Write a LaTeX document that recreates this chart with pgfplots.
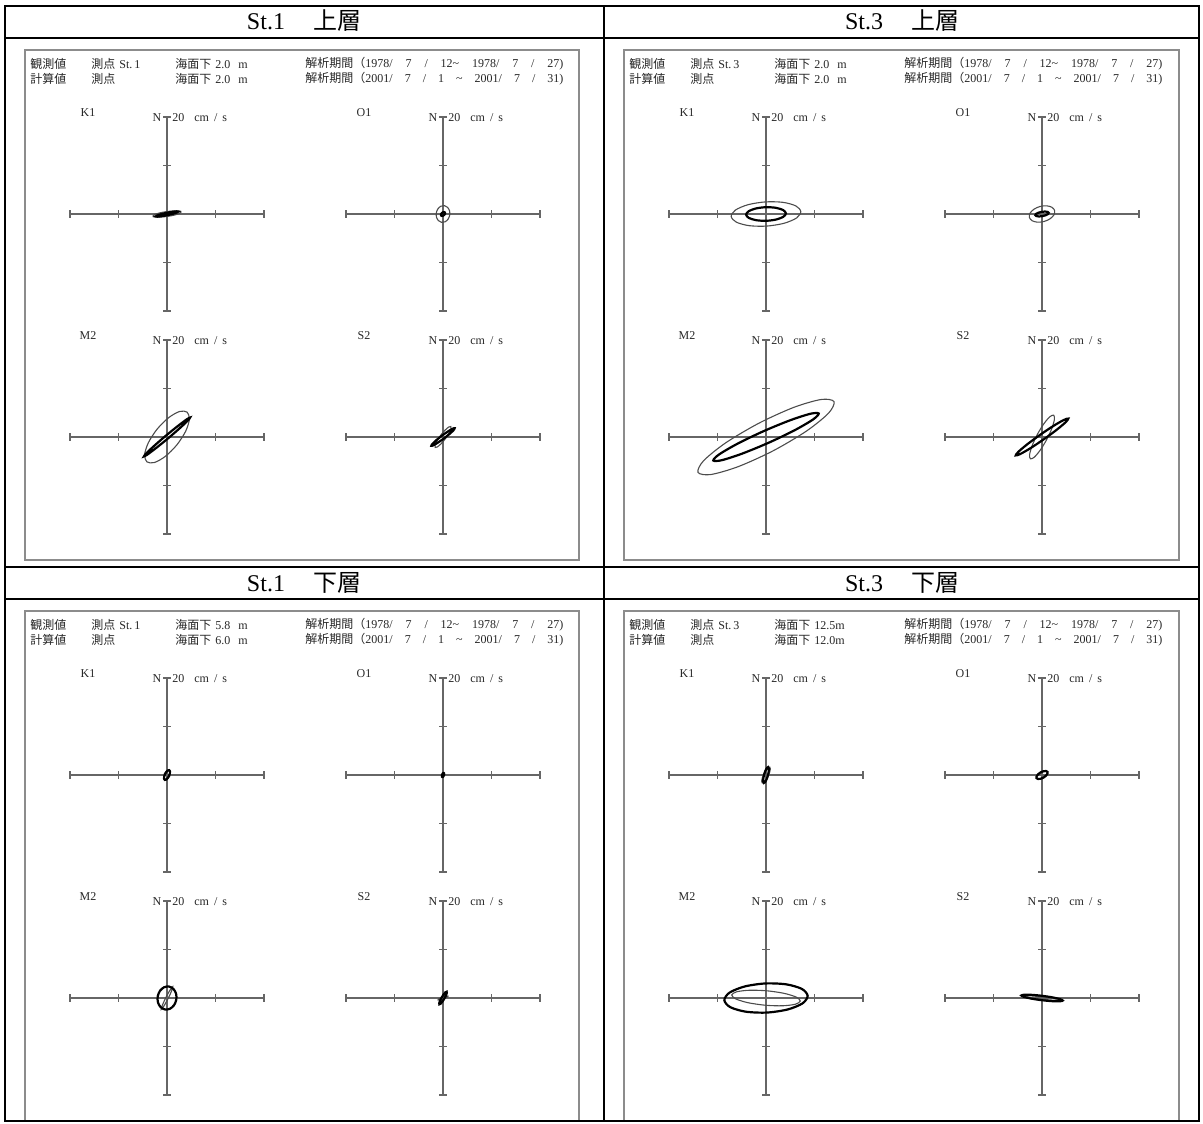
\documentclass[border=0pt]{standalone}
\usepackage{pgfplots}
\pgfplotsset{compat=1.18}
\usepackage{fontspec}
\setmainfont{Liberation Serif}
\newfontfamily\cjk{Noto Sans CJK JP}

\newcommand\ps{\fontsize{6}{7}\selectfont}
\newcommand\ls{\fontsize{6}{7}\selectfont}

\pgfplotsset{
  tide/.style={
    scale only axis, width=97pt, height=97pt,
    xmin=-20, xmax=20, ymin=-20, ymax=20,
    axis lines=middle,
    axis line style={-, draw=black!60, line width=0.75pt},
    xtick={-20,-10,10,20}, ytick={-20,-10,10,20},
    xticklabels={}, yticklabels={},
    major tick length=3.6pt, tick align=center,
    tick style={draw=black!60, line width=0.6pt},
    anchor=center,
  },
  obs/.style={draw=black!70, line width=0.55pt, smooth cycle, mark=none},
  calc/.style={draw=black, line width=1.1pt, smooth cycle, mark=none},
}

% labels of one small plot: centre (px), name
\newcommand\plotlabels[3]{%
  \node[font=\ls,text=black!85] at ({#1-79},{#2-101}) {#3};
  \node[font=\ls,text=black!85] at ({#1-10},{#2-96}) {N};
  \node[font=\ls,text=black!85,anchor=west,inner sep=0pt] at ({#1+5},{#2-96}) {20\hspace{5pt}cm\hspace{2.5pt}/\hspace{2.5pt}s};
}

% panel text: dx, dy (px), station, obs depth, calc depth
\newcommand\ptext[5]{%
  \begin{scope}[every node/.style={anchor=west,inner sep=0pt,font=\ps,text=black!85}]
    \node at ({30+#1},{64+#2}) {\cjk 観測値};
    \node at ({91+#1},{64+#2}) {{\cjk 測点}\hspace{2pt}St.\hspace{1pt}#3};
    \node at ({175+#1},{64+#2}) {{\cjk 海面下}\hspace{2pt}#4};
    \node at ({305+#1},{64+#2}) {{\cjk 解析期間（}\makebox[99pt][s]{1978/ 7 / 12\textasciitilde{} 1978/ 7 / 27)}};
    \node at ({30+#1},{79+#2}) {\cjk 計算値};
    \node at ({91+#1},{79+#2}) {\cjk 測点};
    \node at ({175+#1},{79+#2}) {{\cjk 海面下}\hspace{2pt}#5};
    \node at ({305+#1},{79+#2}) {{\cjk 解析期間（}\makebox[99pt][s]{2001/ 7 / 1 \textasciitilde{} 2001/ 7 / 31)}};
  \end{scope}
}

\newcommand\hdr[4]{\node[font=\fontsize{12}{14}\selectfont, anchor=base] at (#1,#2) {St.#3\hspace{14pt}{\cjk #4}};}

\begin{document}
\begin{tikzpicture}
\begin{scope}[x=0.5pt,y=-0.5pt]
  \path[use as bounding box] (0,0) rectangle (1203,1123);
  \draw[black!45, line width=0.9pt] (25,50) rectangle (579,560);
  \draw[black!45, line width=0.9pt] (624,50) rectangle (1179,560);
  \draw[black!45, line width=0.9pt] (25,1121) -- (25,611) -- (579,611) -- (579,1121);
  \draw[black!45, line width=0.9pt] (624,1121) -- (624,611) -- (1179,611) -- (1179,1121);
  \draw[line width=1.1pt] (5,6) rectangle (1199,1121);
  \draw[line width=1.1pt] (604,6) -- (604,1121);
  \draw[line width=1.1pt] (5,38) -- (1199,38);
  \draw[line width=1.1pt] (5,567) -- (1199,567);
  \draw[line width=1.1pt] (5,599) -- (1199,599);
  \hdr{304}{30}{1}{上層}
  \hdr{902}{30}{3}{上層}
  \hdr{304}{591}{1}{下層}
  \hdr{902}{591}{3}{下層}
  \ptext{0}{0}{1}{2.0\hspace{4pt}m}{2.0\hspace{4pt}m}
  \ptext{599}{0}{3}{2.0\hspace{4pt}m}{2.0\hspace{4pt}m}
  \ptext{0}{561}{1}{5.8\hspace{4pt}m}{6.0\hspace{4pt}m}
  \ptext{599}{561}{3}{12.5m}{12.0m}
  \plotlabels{167}{214}{K1}\plotlabels{443}{214}{O1}\plotlabels{167}{437}{M2}\plotlabels{443}{437}{S2}
  \plotlabels{766}{214}{K1}\plotlabels{1042}{214}{O1}\plotlabels{766}{437}{M2}\plotlabels{1042}{437}{S2}
  \plotlabels{167}{775}{K1}\plotlabels{443}{775}{O1}\plotlabels{167}{998}{M2}\plotlabels{443}{998}{S2}
  \plotlabels{766}{775}{K1}\plotlabels{1042}{775}{O1}\plotlabels{766}{998}{M2}\plotlabels{1042}{998}{S2}
\end{scope}

% ---------- St.1 upper ----------
\begin{axis}[tide, at={(83.5pt,-107pt)}]
\addplot[obs] coordinates {(2.87,0.40) (2.45,0.60) (1.38,0.63) (-0.07,0.50) (-1.50,0.23) (-2.52,-0.10) (-2.87,-0.40) (-2.45,-0.60) (-1.38,-0.63) (0.07,-0.50) (1.50,-0.23) (2.52,0.10)};
\addplot[calc] coordinates {(2.35,0.50) (2.01,0.55) (1.13,0.46) (-0.05,0.25) (-1.22,-0.04) (-2.06,-0.31) (-2.35,-0.50) (-2.01,-0.55) (-1.13,-0.46) (0.05,-0.25) (1.22,0.04) (2.06,0.31)};
\end{axis}
\begin{axis}[tide, at={(221.5pt,-107pt)}]
\addplot[obs] coordinates {(0.30,1.72) (-0.43,1.61) (-1.04,1.07) (-1.38,0.24) (-1.35,-0.65) (-0.95,-1.37) (-0.30,-1.72) (0.43,-1.61) (1.04,-1.07) (1.38,-0.24) (1.35,0.65) (0.95,1.37)};
\addplot[calc] coordinates {(0.38,0.32) (0.24,0.39) (0.02,0.36) (-0.19,0.23) (-0.36,0.04) (-0.43,-0.16) (-0.38,-0.32) (-0.24,-0.39) (-0.02,-0.36) (0.19,-0.23) (0.36,-0.04) (0.43,0.16)};
\end{axis}
\begin{axis}[tide, at={(83.5pt,-218.5pt)}]
\addplot[obs] coordinates {(4.15,5.13) (2.59,5.26) (0.33,3.98) (-2.02,1.64) (-3.83,-1.15) (-4.61,-3.62) (-4.15,-5.13) (-2.59,-5.26) (-0.33,-3.98) (2.02,-1.64) (3.83,1.15) (4.61,3.62)};
\addplot[calc] coordinates {(4.75,3.99) (4.00,3.59) (2.18,2.22) (-0.23,0.27) (-2.57,-1.76) (-4.23,-3.32) (-4.75,-3.99) (-4.00,-3.59) (-2.18,-2.22) (0.23,-0.27) (2.57,1.76) (4.23,3.32)};
\end{axis}
\begin{axis}[tide, at={(221.5pt,-218.5pt)}]
\addplot[obs] coordinates {(1.62,2.16) (1.17,2.05) (0.40,1.39) (-0.48,0.36) (-1.23,-0.77) (-1.65,-1.69) (-1.62,-2.16) (-1.17,-2.05) (-0.40,-1.39) (0.48,-0.36) (1.23,0.77) (1.65,1.69)};
\addplot[calc] coordinates {(2.40,1.81) (1.97,1.70) (1.02,1.14) (-0.21,0.28) (-1.38,-0.66) (-2.18,-1.42) (-2.40,-1.81) (-1.97,-1.70) (-1.02,-1.14) (0.21,-0.28) (1.38,0.66) (2.18,1.42)};
\end{axis}

% ---------- St.3 upper ----------
\begin{axis}[tide, at={(383pt,-107pt)}]
\addplot[obs] coordinates {(7.18,0.50) (6.13,1.68) (3.44,2.41) (-0.17,2.49) (-3.74,1.91) (-6.31,0.81) (-7.18,-0.50) (-6.13,-1.68) (-3.44,-2.41) (0.17,-2.49) (3.74,-1.91) (6.31,-0.81)};
\addplot[calc] coordinates {(4.10,0.14) (3.52,0.82) (2.01,1.28) (-0.05,1.40) (-2.09,1.14) (-3.57,0.58) (-4.10,-0.14) (-3.52,-0.82) (-2.01,-1.28) (0.05,-1.40) (2.09,-1.14) (3.57,-0.58)};
\end{axis}
\begin{axis}[tide, at={(521pt,-107pt)}]
\addplot[obs] coordinates {(2.61,0.70) (2.05,1.38) (0.95,1.69) (-0.41,1.55) (-1.66,0.99) (-2.47,0.17) (-2.61,-0.70) (-2.05,-1.38) (-0.95,-1.69) (0.41,-1.55) (1.66,-0.99) (2.47,-0.17)};
\addplot[calc] coordinates {(1.38,0.24) (1.16,0.43) (0.62,0.51) (-0.08,0.44) (-0.76,0.26) (-1.23,0.01) (-1.38,-0.24) (-1.16,-0.43) (-0.62,-0.51) (0.08,-0.44) (0.76,-0.26) (1.23,-0.01)};
\end{axis}
\begin{axis}[tide, at={(383pt,-218.5pt)}]
\addplot[obs] coordinates {(14.02,7.30) (11.40,7.74) (5.73,6.11) (-1.48,2.84) (-8.29,-1.19) (-12.88,-4.90) (-14.02,-7.30) (-11.40,-7.74) (-5.73,-6.11) (1.48,-2.84) (8.29,1.19) (12.88,4.90)};
\addplot[calc] coordinates {(10.87,4.84) (9.15,4.79) (4.98,3.45) (-0.53,1.19) (-5.89,-1.39) (-9.68,-3.60) (-10.87,-4.84) (-9.15,-4.79) (-4.98,-3.45) (0.53,-1.19) (5.89,1.39) (9.68,3.60)};
\end{axis}
\begin{axis}[tide, at={(521pt,-218.5pt)}]
\addplot[obs] coordinates {(2.39,4.50) (1.59,4.16) (0.36,2.70) (-0.97,0.52) (-2.04,-1.80) (-2.56,-3.64) (-2.39,-4.50) (-1.59,-4.16) (-0.36,-2.70) (0.97,-0.52) (2.04,1.80) (2.56,3.64)};
\addplot[calc] coordinates {(5.41,3.79) (4.51,3.52) (2.41,2.32) (-0.34,0.49) (-3.00,-1.47) (-4.85,-3.03) (-5.41,-3.79) (-4.51,-3.52) (-2.41,-2.32) (0.34,-0.49) (3.00,1.47) (4.85,3.03)};
\end{axis}

% ---------- St.1 lower ----------
\begin{axis}[tide, at={(83.5pt,-387.5pt)}]
\addplot[obs] coordinates {(0.50,0.87) (0.17,0.90) (-0.20,0.69) (-0.52,0.30) (-0.70,-0.17) (-0.69,-0.60) (-0.50,-0.87) (-0.17,-0.90) (0.20,-0.69) (0.52,-0.30) (0.70,0.17) (0.69,0.60)};
\addplot[calc] coordinates {(0.46,1.00) (0.20,0.96) (-0.12,0.66) (-0.41,0.19) (-0.59,-0.33) (-0.61,-0.77) (-0.46,-1.00) (-0.20,-0.96) (0.12,-0.66) (0.41,-0.19) (0.59,0.33) (0.61,0.77)};
\end{axis}
\begin{axis}[tide, at={(221.5pt,-387.5pt)}]
\addplot[obs] coordinates {(0.07,0.39) (-0.04,0.36) (-0.14,0.23) (-0.20,0.03) (-0.21,-0.17) (-0.16,-0.32) (-0.07,-0.39) (0.04,-0.36) (0.14,-0.23) (0.20,-0.03) (0.21,0.17) (0.16,0.32)};
\addplot[calc] coordinates {(0.15,0.42) (0.04,0.40) (-0.09,0.27) (-0.19,0.07) (-0.24,-0.15) (-0.23,-0.33) (-0.15,-0.42) (-0.04,-0.40) (0.09,-0.27) (0.19,-0.07) (0.24,0.15) (0.23,0.33)};
\end{axis}
\begin{axis}[tide, at={(83.5pt,-499pt)}]
\addplot[obs] coordinates {(1.18,2.32) (0.91,2.06) (0.40,1.26) (-0.22,0.11) (-0.78,-1.06) (-1.13,-1.95) (-1.18,-2.32) (-0.91,-2.06) (-0.40,-1.26) (0.22,-0.11) (0.78,1.06) (1.13,1.95)};
\addplot[calc] coordinates {(0.42,2.36) (-0.60,2.22) (-1.45,1.48) (-1.92,0.34) (-1.87,-0.89) (-1.32,-1.88) (-0.42,-2.36) (0.60,-2.22) (1.45,-1.48) (1.92,-0.34) (1.87,0.89) (1.32,1.88)};
\end{axis}
\begin{axis}[tide, at={(221.5pt,-499pt)}]
\addplot[obs] coordinates {(1.03,0.38) (0.86,0.42) (0.46,0.35) (-0.07,0.19) (-0.58,-0.03) (-0.93,-0.23) (-1.03,-0.38) (-0.86,-0.42) (-0.46,-0.35) (0.07,-0.19) (0.58,0.03) (0.93,0.23)};
\addplot[calc] coordinates {(0.75,1.30) (0.52,1.20) (0.15,0.78) (-0.26,0.15) (-0.60,-0.52) (-0.78,-1.05) (-0.75,-1.30) (-0.52,-1.20) (-0.15,-0.78) (0.26,-0.15) (0.60,0.52) (0.78,1.05)};
\end{axis}

% ---------- St.3 lower ----------
\begin{axis}[tide, at={(383pt,-387.5pt)}]
\addplot[obs] coordinates {(0.76,1.63) (0.43,1.52) (-0.01,1.00) (-0.45,0.21) (-0.77,-0.63) (-0.89,-1.31) (-0.76,-1.63) (-0.43,-1.52) (0.01,-1.00) (0.45,-0.21) (0.77,0.63) (0.89,1.31)};
\addplot[calc] coordinates {(0.44,1.64) (0.19,1.47) (-0.11,0.91) (-0.39,0.10) (-0.55,-0.73) (-0.57,-1.37) (-0.44,-1.64) (-0.19,-1.47) (0.11,-0.91) (0.39,-0.10) (0.55,0.73) (0.57,1.37)};
\end{axis}
\begin{axis}[tide, at={(521pt,-387.5pt)}]
\addplot[obs] coordinates {(1.04,0.60) (0.73,0.82) (0.22,0.82) (-0.35,0.61) (-0.82,0.22) (-1.08,-0.22) (-1.04,-0.60) (-0.73,-0.82) (-0.22,-0.82) (0.35,-0.61) (0.82,-0.22) (1.08,0.22)};
\addplot[calc] coordinates {(1.13,0.65) (0.83,0.82) (0.30,0.78) (-0.30,0.52) (-0.82,0.13) (-1.13,-0.30) (-1.13,-0.65) (-0.83,-0.82) (-0.30,-0.78) (0.30,-0.52) (0.82,-0.13) (1.13,0.30)};
\end{axis}
\begin{axis}[tide, at={(383pt,-499pt)}]
\addplot[obs] coordinates {(7.07,-0.62) (6.19,0.21) (3.65,0.98) (0.13,1.49) (-3.42,1.60) (-6.06,1.28) (-7.07,0.62) (-6.19,-0.21) (-3.65,-0.98) (-0.13,-1.49) (3.42,-1.60) (6.06,-1.28)};
\addplot[calc] coordinates {(8.59,0.45) (7.36,1.89) (4.16,2.82) (-0.16,3.00) (-4.43,2.37) (-7.52,1.11) (-8.59,-0.45) (-7.36,-1.89) (-4.16,-2.82) (0.16,-3.00) (4.43,-2.37) (7.52,-1.11)};
\end{axis}
\begin{axis}[tide, at={(521pt,-499pt)}]
\addplot[obs] coordinates {(3.98,-0.42) (3.46,-0.24) (2.01,0.01) (0.03,0.25) (-1.97,0.42) (-3.43,0.49) (-3.98,0.42) (-3.46,0.24) (-2.01,-0.01) (-0.03,-0.25) (1.97,-0.42) (3.43,-0.49)};
\addplot[calc] coordinates {(4.27,-0.52) (3.72,-0.23) (2.18,0.13) (0.05,0.45) (-2.09,0.65) (-3.67,0.68) (-4.27,0.52) (-3.72,0.23) (-2.18,-0.13) (-0.05,-0.45) (2.09,-0.65) (3.67,-0.68)};
\end{axis}
\end{tikzpicture}
\end{document}
